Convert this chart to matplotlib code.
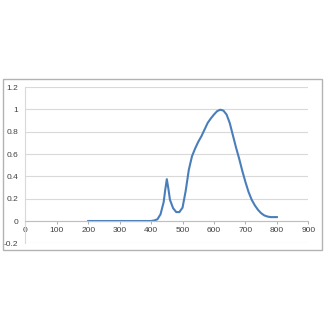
import matplotlib
matplotlib.use("Agg")
import matplotlib.pyplot as plt
from matplotlib.patches import Rectangle

# spectrum
wavelength = [200, 250, 300, 350, 380, 390, 400, 410, 420, 430, 440, 445, 450, 455,
              460, 470, 480, 490, 500, 510, 520, 530, 540, 550, 560, 570, 580, 590,
              600, 610, 620, 630, 640, 650, 660, 670, 680, 690, 700, 710, 720, 730,
              740, 750, 760, 770, 780, 790, 800]
intensity = [0, 0, 0, 0, 0, 0, 0.0, 0.005, 0.015, 0.06, 0.17, 0.28, 0.375, 0.29,
             0.19, 0.115, 0.08, 0.08, 0.12, 0.27, 0.46, 0.58, 0.65, 0.71, 0.76, 0.82,
             0.88, 0.92, 0.955, 0.985, 0.998, 0.99, 0.955, 0.88, 0.77, 0.66, 0.56,
             0.45, 0.35, 0.26, 0.19, 0.14, 0.10, 0.07, 0.05, 0.04, 0.035, 0.035, 0.035]

x_ticks = [0, 100, 200, 300, 400, 500, 600, 700, 800, 900]
y_ticks = [-0.2, 0, 0.2, 0.4, 0.6, 0.8, 1, 1.2]
y_labels = ["-0.2", "0", "0.2", "0.4", "0.6", "0.8", "1", "1.2"]

plt.rcParams['font.family'] = ['Liberation Sans', 'DejaVu Sans']

fig = plt.figure(figsize=(3.3, 3.3), dpi=100)
fig.patch.set_facecolor("white")

# outer chart frame
fig.patches.append(Rectangle((0.009, 0.2424), 0.967, 0.518, transform=fig.transFigure,
                             fill=False, edgecolor="#b3b3b3", linewidth=1.0))

ax = fig.add_axes([0.0767, 0.2627, 0.8576, 0.4731])
ax.plot(wavelength, intensity, color="#4a7ebb", linewidth=1.5)

ax.set_xlim(0, 900)
ax.set_ylim(-0.2, 1.2)
ax.set_yticks(y_ticks)
ax.set_yticklabels(y_labels)
ax.set_xticks(x_ticks)
ax.grid(axis="y", color="#d9d9d9", linewidth=0.8)
ax.set_axisbelow(True)

for s in ["top", "right"]:
    ax.spines[s].set_visible(False)
ax.spines["left"].set_color("#d9d9d9")
ax.spines["left"].set_linewidth(0.8)
ax.spines["bottom"].set_position(("data", 0))
ax.spines["bottom"].set_color("#c0c0c0")
ax.spines["bottom"].set_linewidth(0.8)

ax.tick_params(axis="x", direction="out", length=2.5, width=0.6, color="#a0a0a0",
               labelsize=6, labelcolor="#404040", pad=2)
ax.tick_params(axis="y", length=0, labelsize=6, labelcolor="#404040", pad=5)

fig.savefig("out.png", dpi=100)
